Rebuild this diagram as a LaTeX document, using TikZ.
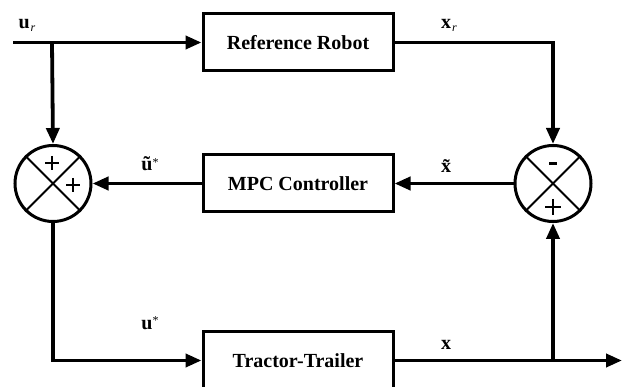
\documentclass[tikz,border=0pt]{standalone}
\usepackage{fontspec}
\setmainfont{Liberation Serif}
\usetikzlibrary{arrows.meta}
\tikzset{
  blk/.style={draw, line width=3pt, minimum width=190pt, minimum height=57pt, inner sep=0pt, font=\fontsize{20}{22}\selectfont\bfseries},
  sumc/.style={draw, circle, line width=3pt, minimum size=76pt, inner sep=0pt},
  conn/.style={line width=3.8pt, line join=miter},
  arr/.style={conn, -{Triangle[length=16pt,width=13pt]}},
  lbl/.style={font=\fontsize{20}{22}\selectfont\bfseries, inner sep=0pt},
  sgn/.style={line width=1.2pt}
}
\begin{document}
\begin{tikzpicture}[x=1pt,y=-1pt]
\useasboundingbox (0,0) rectangle (632,387);
\node[blk] (ref) at (298,42.5) {Reference Robot};
\node[blk] (mpc) at (298,183.5) {MPC Controller};
\node[blk] (tt) at (298,360.5) {Tractor-Trailer};
\node[sumc] (sL) at (53,183.5) {};
\node[sumc] (sR) at (553,183.5) {};
% crosses in the summing junctions
\foreach \s in {sL,sR}{
  \draw[line width=1.8pt] (\s.45) -- (\s.225);
  \draw[line width=1.8pt] (\s.135) -- (\s.315);
}
% signs
\draw[sgn] (45,163) -- (59,163) (52,156) -- (52,170);
\draw[sgn] (66,185) -- (80,185) (73,178) -- (73,192);
\draw[line width=2.8pt] (549,163.5) -- (557,163.5);
\draw[sgn] (545,207) -- (561,207) (553,199) -- (553,215);
% coordinates
\coordinate (in) at (13,42.5);
\coordinate (j1) at (52,42.5);
\coordinate (out) at (622,360.5);
\coordinate (j2) at (553,360.5);
% connectors
\draw[arr] (in) -- (ref.west);
\draw[arr] (j1) -- (sL.north);
\draw[arr] (ref.east) -| (sR.north);
\draw[arr] (sR.west) -- (mpc.east);
\draw[arr] (mpc.west) -- (sL.east);
\draw[arr] (sL.south) |- (tt.west);
\draw[arr] (tt.east) -- (out);
\draw[arr] (j2) -- (sR.south);
% labels
\node[lbl] (lur) at (27,25) {u\hspace{1pt}\raisebox{-3pt}{\fontsize{12}{12}\selectfont\mdseries\itshape r}};
\node[lbl] (lxr) at (449,25) {x\hspace{1pt}\raisebox{-3pt}{\fontsize{12}{12}\selectfont\mdseries\itshape r}};
\node[lbl] (lut) at (150,164) {ũ\raisebox{4pt}{\fontsize{12}{12}\selectfont\mdseries *}};
\node[lbl] (lxt) at (446,166) {x̃};
\node[lbl] (lus) at (150,323) {u\raisebox{5pt}{\fontsize{12}{12}\selectfont\mdseries *}};
\node[lbl] (lx) at (446,345) {x};
\end{tikzpicture}
\end{document}
